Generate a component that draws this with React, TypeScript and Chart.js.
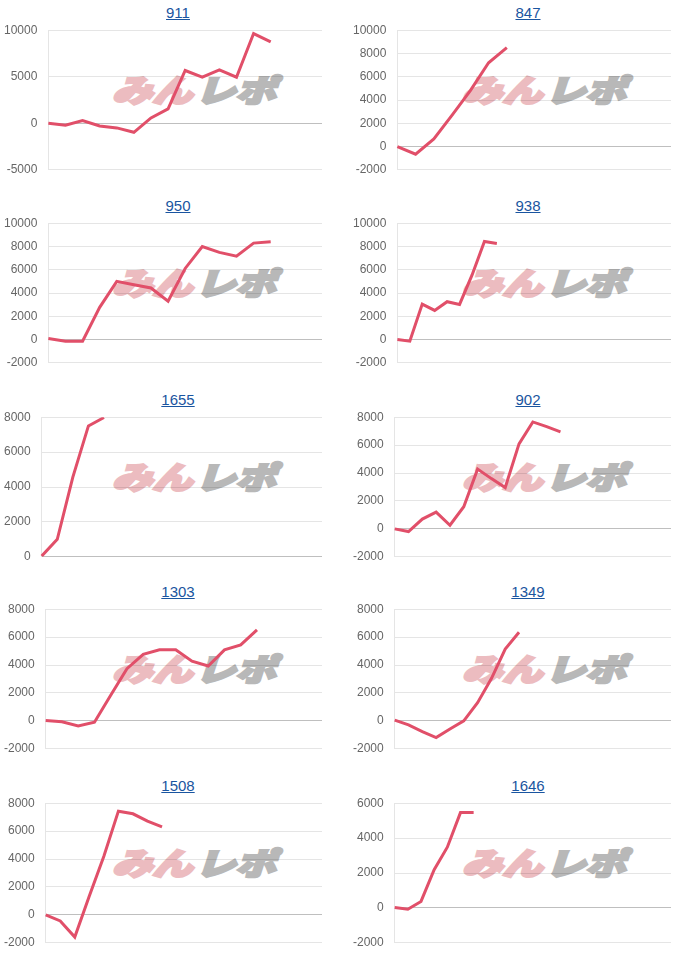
import React, { useEffect, useRef } from "react";
import { Chart, registerables } from "chart.js";

Chart.register(...registerables);

// ---- data ----
const chartTitles = ["911", "847", "950", "938", "1655", "902", "1303", "1349", "1508", "1646"];
const xCategoryCounts = [17, 16, 17, 23, 19, 21, 18, 21, 20, 22];
const yMins = [-5000, -2000, -2000, -2000, 0, -2000, -2000, -2000, -2000, -2000];
const yMaxs = [10000, 10000, 10000, 10000, 8000, 8000, 8000, 8000, 8000, 6000];
const ySteps = [5000, 2000, 2000, 2000, 2000, 2000, 2000, 2000, 2000, 2000];

const series911 = [0, -200, 290, -290, -500, -970, 570, 1540, 5670, 4950, 5740, 4950, 9640, 8750];
const series847 = [0, -660, 650, 2700, 4800, 7200, 8500];
const series950 = [80, -140, -140, 2770, 5000, 4710, 4430, 3290, 6110, 8000, 7490, 7170, 8290, 8400];
const series938 = [0, -140, 3050, 2500, 3250, 3020, 5530, 8430, 8260];
const series1655 = [40, 1000, 4570, 7500, 7980];
const series902 = [0, -190, 700, 1200, 260, 1590, 4280, 3600, 2960, 6090, 7660, 7320, 6950];
const series1303 = [20, -70, -360, -100, 1840, 3740, 4770, 5090, 5090, 4280, 3930, 5090, 5440, 6520];
const series1349 = [50, -290, -770, -1200, -580, 0, 1300, 3030, 5140, 6350];
const series1508 = [0, -430, -1590, 1350, 4200, 7430, 7240, 6710, 6300];
const series1646 = [20, -80, 370, 2190, 3480, 5460, 5460];

const allSeries = [
  series911, series847, series950, series938, series1655,
  series902, series1303, series1349, series1508, series1646,
];

// ---- styles ----
const LINE_COLOR = "#e14f69";
const LINK_COLOR = "#1a55a0";
const WM_PINK = "#ecbcc0";
const WM_GRAY = "#b8b8b8";
const rowTops = [0, 193, 387, 579, 773];
const colLefts = [0, 350];
const canvasOffsets = [1, 0];
const canvasWidths = [321, 321];

function MiniChart({ index }: { index: number }) {
  const ref = useRef<HTMLCanvasElement | null>(null);
  const row = Math.floor(index / 2);
  const col = index % 2;
  const top = rowTops[row];
  const left = colLefts[col];

  useEffect(() => {
    if (!ref.current) return;
    const labels = Array.from({ length: xCategoryCounts[index] }, (_, i) => String(i + 1));
    const chart = new Chart(ref.current, {
      type: "line",
      data: {
        labels,
        datasets: [
          {
            data: allSeries[index],
            borderColor: LINE_COLOR,
            backgroundColor: LINE_COLOR,
            borderWidth: 3,
            pointRadius: 0,
            tension: 0,
            fill: false,
          },
        ],
      },
      options: {
        animation: false,
        responsive: true,
        maintainAspectRatio: false,
        layout: { padding: 0 },
        plugins: {
          legend: { display: false },
          tooltip: { enabled: false },
          title: { display: false },
        },
        scales: {
          x: { display: false },
          y: {
            min: yMins[index],
            max: yMaxs[index],
            ticks: {
              stepSize: ySteps[index],
              color: "#666",
              font: { size: 12, family: "'Liberation Sans', Arial, sans-serif" },
              callback: (v: any) => String(v),
            },
            grid: {
              color: (ctx: any) =>
                ctx.tick && ctx.tick.value === 0 ? "rgba(0,0,0,0.25)" : "rgba(0,0,0,0.1)",
              tickColor: "transparent",
              tickLength: 8,
            },
            border: { color: "rgba(0,0,0,0.1)" },
          },
        },
      },
    });
    return () => chart.destroy();
  }, [index]);

  return (
    <>
      <div
        style={{
          position: "absolute",
          left: left,
          top: top + 4,
          width: 356,
          height: 17,
          lineHeight: "17px",
          textAlign: "center",
          fontFamily: "'Liberation Sans', Arial, sans-serif",
          fontSize: 15,
        }}
      >
        <a href="#" style={{ color: LINK_COLOR, textDecoration: "underline" }}>
          {chartTitles[index]}
        </a>
      </div>
      <div
        style={{
          position: "absolute",
          left: left + 112,
          top: top + 72,
          width: 170,
          height: 34,
          whiteSpace: "nowrap",
          fontFamily: "'Noto Sans CJK JP', sans-serif",
          fontWeight: 900,
          fontStyle: "italic",
          fontSize: 31,
          lineHeight: "34px",
          transform: "scaleX(1.3)",
          transformOrigin: "left center",
          pointerEvents: "none",
          zIndex: 0,
        }}
      >
        <span style={{ color: WM_PINK, WebkitTextStroke: `2.5px ${WM_PINK}` } as any}>みん</span>
        <span style={{ color: WM_GRAY, WebkitTextStroke: `2.5px ${WM_GRAY}`, marginLeft: 2 } as any}>レポ</span>
      </div>
      <div
        style={{
          position: "absolute",
          left: left + canvasOffsets[col],
          top: top + 20,
          width: canvasWidths[col],
          height: 160,
          zIndex: 1,
        }}
      >
        <canvas ref={ref} />
      </div>
    </>
  );
}

export default function App() {
  return (
    <div
      style={{
        position: "absolute",
        left: 0,
        top: 0,
        width: 700,
        height: 965,
        background: "#fff",
        overflow: "hidden",
      }}
    >
      {chartTitles.map((_, i) => (
        <MiniChart key={i} index={i} />
      ))}
    </div>
  );
}
